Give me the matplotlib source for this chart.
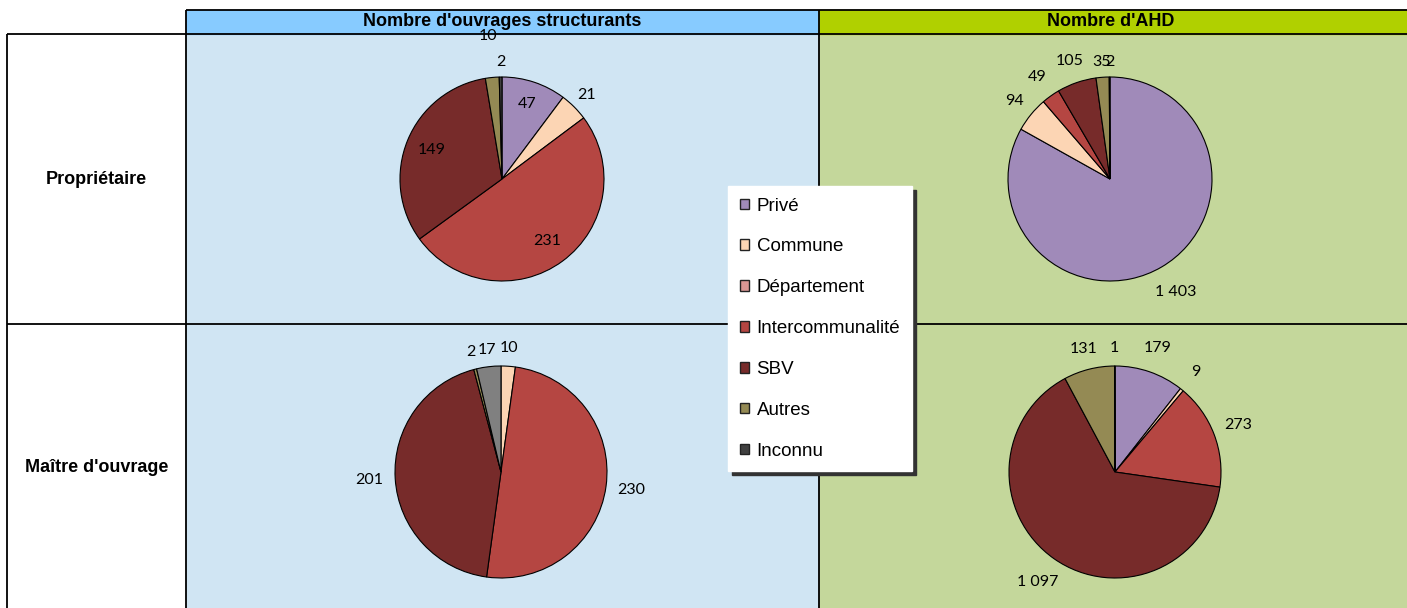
import matplotlib
matplotlib.use("Agg")
import numpy as np
import matplotlib.pyplot as plt
from matplotlib.patches import Rectangle, Patch

categories = ['Privé', 'Commune', 'Département', 'Intercommunalité', 'SBV', 'Autres', 'Inconnu']
colors = ['#A08AB9', '#FCD5B4', '#D99694', '#B54642', '#772B2A', '#948A54', '#404040']

col_titles = ["Nombre d'ouvrages structurants", "Nombre d'AHD"]
row_titles = ['Propriétaire', "Maître d'ouvrage"]

# ordre : Privé, Commune, Département, Intercommunalité, SBV, Autres, Inconnu
ouvrages_proprio = [47, 21, 0, 231, 149, 10, 2]
ahd_proprio = [1403, 94, 0, 49, 105, 35, 2]
ouvrages_mo = [0, 10, 0, 230, 201, 2, 17]
ahd_mo = [179, 9, 0, 273, 1097, 131, 1]

W, H = 1407, 608
fig = plt.figure(figsize=(W / 100, H / 100), dpi=100)
ax = fig.add_axes([0, 0, 1, 1])


def py(y):
    # ligne pixel (haut = 0) -> y données
    return H - y


# fonds du tableau
x0, x1, x2, x3 = 7, 186, 819, 1407
y_head, y_top, y_mid, y_bot = 10, 34, 324, 608
ax.add_patch(Rectangle((x1, py(y_bot)), x2 - x1, y_bot - y_top, color='#D0E5F3', zorder=0))
ax.add_patch(Rectangle((x2, py(y_bot)), x3 - x2, y_bot - y_top, color='#C4D79B', zorder=0))
ax.add_patch(Rectangle((x1, py(y_top)), x2 - x1, y_top - y_head, color='#87CBFF', zorder=0))
ax.add_patch(Rectangle((x2, py(y_top)), x3 - x2, y_top - y_head, color='#B0D000', zorder=0))

lk = dict(color='black', lw=1.3, zorder=1, solid_capstyle='butt')
ax.plot([x1, x3], [py(y_head)] * 2, **lk)
ax.plot([x0, x3], [py(y_top)] * 2, **lk)
ax.plot([x0, x3], [py(y_mid)] * 2, **lk)
for x, ya in [(x0, y_top), (x1, y_head), (x2, y_head)]:
    ax.plot([x, x], [py(ya), py(y_bot)], **lk)

hfont = dict(family='Liberation Sans', fontsize=13, fontweight='bold', ha='center', va='center')
ax.text(502, py(22), col_titles[0], **hfont)
ax.text(1111, py(22), col_titles[1], **hfont)
ax.text((x0 + x1) / 2, py(180), row_titles[0], **hfont)
ax.text((x0 + x1) / 2, py(468), row_titles[1], **hfont)


def draw_pie(values, center, radius, dists, inconnu_color=None):
    cols = list(colors)
    if inconnu_color:
        cols[-1] = inconnu_color
    vals = [v for v in values if v > 0]
    cc = [c for v, c in zip(values, cols) if v > 0]
    wedges, _ = ax.pie(vals, colors=cc, startangle=90, counterclock=False,
                       center=center, radius=radius, frame=True,
                       wedgeprops=dict(edgecolor='black', linewidth=0.8))
    for w, v, d in zip(wedges, vals, dists):
        mid = np.deg2rad((w.theta1 + w.theta2) / 2)
        tx = center[0] + d * radius * np.cos(mid)
        ty = center[1] + d * radius * np.sin(mid)
        ax.text(tx, ty, f"{v:,}".replace(',', ' '), family='Lato', fontsize=11.5,
                ha='center', va='center', zorder=5)


draw_pie(ouvrages_proprio, (502, py(179)), 102, [0.78, 1.17, 0.75, 0.75, 1.41, 1.15])
draw_pie(ahd_proprio, (1110, py(179)), 102, [1.28, 1.21, 1.23, 1.22, 1.15, 1.15])
draw_pie(ouvrages_mo, (501, py(472)), 106, [1.17, 1.24, 1.25, 1.17, 1.16], inconnu_color='#808080')
draw_pie(ahd_mo, (1115, py(472)), 106, [1.24, 1.21, 1.24, 1.27, 1.2, 1.17])

handles = [Patch(facecolor=c, edgecolor='#222222', linewidth=1) for c in colors]
leg = ax.legend(handles, categories, loc='upper left', bbox_to_anchor=(728, py(186)),
                bbox_transform=ax.transData, borderaxespad=0, frameon=True, fancybox=False,
                shadow={'color': '#333333', 'alpha': 1.0, 'ox': 3, 'oy': -3},
                handlelength=0.5, handleheight=0.5, handletextpad=0.4,
                labelspacing=1.27, borderpad=0.62,
                prop={'family': 'Liberation Sans', 'size': 13.5})
leg.get_frame().set_edgecolor('white')
leg.get_frame().set_facecolor('white')
leg.set_zorder(10)

ax.set_xlim(0, W)
ax.set_ylim(0, H)
ax.axis('off')

fig.savefig('out.png', dpi=100, facecolor='white')
